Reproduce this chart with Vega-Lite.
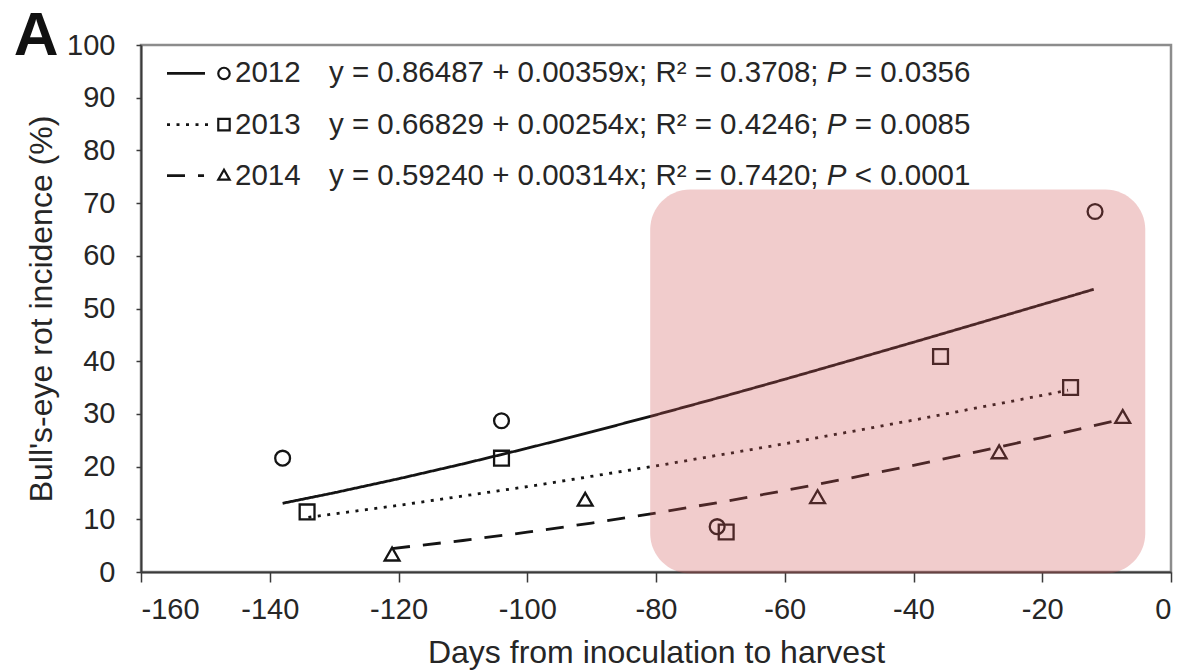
{
  "$schema": "https://vega.github.io/schema/vega-lite/v6.json",
  "width": 1030,
  "height": 527,
  "autosize": {"type": "none"},
  "padding": {"left": 141, "top": 45, "right": 15, "bottom": 100},
  "background": "white",
  "config": {
    "view": {"stroke": "#8c8c8c", "strokeWidth": 2.5},
    "font": "Liberation Sans",
    "axis": {
      "grid": false,
      "domainColor": "#3a3a3a",
      "domainWidth": 2,
      "tickColor": "#3a3a3a",
      "tickWidth": 1.5,
      "labelFont": "Liberation Sans",
      "labelFontSize": 29,
      "labelColor": "#262626",
      "titleFont": "Liberation Sans",
      "titleFontWeight": "normal",
      "titleColor": "#262626"
    }
  },
  "datasets": {
    "points": [
      {"year": "2012", "days": -138, "incidence": 21.6},
      {"year": "2012", "days": -104, "incidence": 28.7},
      {"year": "2012", "days": -70.5, "incidence": 8.6},
      {"year": "2012", "days": -11.8, "incidence": 68.4},
      {"year": "2013", "days": -134.2, "incidence": 11.4},
      {"year": "2013", "days": -104, "incidence": 21.6},
      {"year": "2013", "days": -69.1, "incidence": 7.6},
      {"year": "2013", "days": -35.8, "incidence": 40.9},
      {"year": "2013", "days": -15.6, "incidence": 35.0},
      {"year": "2014", "days": -121, "incidence": 3.4},
      {"year": "2014", "days": -91, "incidence": 13.8},
      {"year": "2014", "days": -54.9, "incidence": 14.3},
      {"year": "2014", "days": -26.7, "incidence": 22.8},
      {"year": "2014", "days": -7.5, "incidence": 29.5}
    ],
    "fits": [
      {"year": "2012", "days": -138, "fit": 13.04},
      {"year": "2012", "days": -130, "fit": 15.03},
      {"year": "2012", "days": -120, "fit": 17.69},
      {"year": "2012", "days": -110, "fit": 20.51},
      {"year": "2012", "days": -100, "fit": 23.48},
      {"year": "2012", "days": -90, "fit": 26.59},
      {"year": "2012", "days": -80, "fit": 29.82},
      {"year": "2012", "days": -70, "fit": 33.15},
      {"year": "2012", "days": -60, "fit": 36.57},
      {"year": "2012", "days": -50, "fit": 40.07},
      {"year": "2012", "days": -40, "fit": 43.6},
      {"year": "2012", "days": -30, "fit": 47.18},
      {"year": "2012", "days": -20, "fit": 50.77},
      {"year": "2012", "days": -12, "fit": 53.64},
      {"year": "2013", "days": -134, "fit": 10.37},
      {"year": "2013", "days": -120, "fit": 12.64},
      {"year": "2013", "days": -100, "fit": 16.2},
      {"year": "2013", "days": -80, "fit": 20.12},
      {"year": "2013", "days": -60, "fit": 24.34},
      {"year": "2013", "days": -40, "fit": 28.82},
      {"year": "2013", "days": -20, "fit": 33.52},
      {"year": "2013", "days": -16, "fit": 34.49},
      {"year": "2014", "days": -121, "fit": 4.45},
      {"year": "2014", "days": -110, "fit": 5.98},
      {"year": "2014", "days": -100, "fit": 7.55},
      {"year": "2014", "days": -90, "fit": 9.29},
      {"year": "2014", "days": -80, "fit": 11.2},
      {"year": "2014", "days": -70, "fit": 13.25},
      {"year": "2014", "days": -60, "fit": 15.45},
      {"year": "2014", "days": -50, "fit": 17.79},
      {"year": "2014", "days": -40, "fit": 20.25},
      {"year": "2014", "days": -30, "fit": 22.83},
      {"year": "2014", "days": -20, "fit": 25.52},
      {"year": "2014", "days": -8, "fit": 28.87}
    ],
    "legendLines": [
      {"year": "2012", "x1": -155.96, "x2": -150.06, "y": 94.6},
      {"year": "2013", "x1": -155.96, "x2": -149.28, "y": 84.9},
      {"year": "2014", "x1": -155.96, "x2": -150.21, "y": 75.2}
    ],
    "legendMarks": [
      {"year": "2012", "x": -147.11, "y": 94.6},
      {"year": "2013", "x": -147.11, "y": 84.9},
      {"year": "2014", "x": -147.11, "y": 75.4}
    ],
    "legendText": [
      {"x": -145.4, "y": 94.6, "label": "2012"},
      {"x": -145.4, "y": 84.9, "label": "2013"},
      {"x": -145.4, "y": 75.2, "label": "2014"},
      {"x": -130.8, "y": 94.6, "label": "y = 0.86487 + 0.00359x; R² = 0.3708;"},
      {"x": -130.8, "y": 84.9, "label": "y = 0.66829 + 0.00254x; R² = 0.4246;"},
      {"x": -130.8, "y": 75.2, "label": "y = 0.59240 + 0.00314x; R² = 0.7420;"},
      {"x": -49.13, "y": 94.6, "label": "= 0.0356"},
      {"x": -49.13, "y": 84.9, "label": "= 0.0085"},
      {"x": -49.13, "y": 75.2, "label": "< 0.0001"}
    ],
    "legendItalic": [
      {"x": -53.47, "y": 94.6, "label": "P"},
      {"x": -53.47, "y": 84.9, "label": "P"},
      {"x": -53.47, "y": 75.2, "label": "P"}
    ],
    "panel": [{"x": -176.3, "y": 98.1, "label": "A"}],
    "highlight": [{"x1": -80.9, "x2": -4.0, "y1": -0.3, "y2": 72.6}]
  },
  "layer": [
    {
      "data": {"name": "fits"},
      "mark": {"type": "line", "color": "#141414"},
      "encoding": {
        "x": {
          "field": "days", "type": "quantitative",
          "scale": {"domain": [-160, 0], "nice": false, "zero": false},
          "axis": {
            "values": [-160, -140, -120, -100, -80, -60, -40, -20, 0],
            "labelExpr": "'' + datum.value",
            "tickSize": 10,
            "labelPadding": 13,
            "title": "Days from inoculation to harvest",
            "titleFontSize": 32,
            "titlePadding": 13
          }
        },
        "y": {
          "field": "fit", "type": "quantitative",
          "scale": {"domain": [0, 100], "nice": false},
          "axis": {
            "values": [0, 10, 20, 30, 40, 50, 60, 70, 80, 90, 100],
            "tickSize": 5,
            "labelPadding": 21,
            "title": "Bull's-eye rot incidence (%)",
            "titleFontSize": 32,
            "titlePadding": 8
          }
        },
        "detail": {"field": "year", "type": "nominal"},
        "strokeDash": {
          "field": "year", "type": "nominal",
          "scale": {"domain": ["2012", "2013", "2014"], "range": [[1, 0], [3, 6.5], [18, 13]]},
          "legend": null
        },
        "strokeWidth": {
          "field": "year", "type": "nominal",
          "scale": {"domain": ["2012", "2013", "2014"], "range": [2.8, 2.8, 4.6]},
          "legend": null
        }
      }
    },
    {
      "data": {"name": "points"},
      "mark": {"type": "point", "filled": false, "stroke": "#141414", "strokeWidth": 2.3, "size": 220, "opacity": 1},
      "encoding": {
        "x": {"field": "days", "type": "quantitative"},
        "y": {"field": "incidence", "type": "quantitative"},
        "shape": {
          "field": "year", "type": "nominal",
          "scale": {"domain": ["2012", "2013", "2014"], "range": ["circle", "square", "triangle-up"]},
          "legend": null
        }
      }
    },
    {
      "data": {"name": "legendLines"},
      "mark": {"type": "rule", "color": "#141414"},
      "encoding": {
        "x": {"field": "x1", "type": "quantitative"},
        "x2": {"field": "x2"},
        "y": {"field": "y", "type": "quantitative"},
        "strokeDash": {"field": "year", "type": "nominal", "legend": null},
        "strokeWidth": {"field": "year", "type": "nominal", "legend": null}
      }
    },
    {
      "data": {"name": "legendMarks"},
      "mark": {"type": "point", "filled": false, "stroke": "#141414", "strokeWidth": 2.2, "size": 130, "opacity": 1},
      "encoding": {
        "x": {"field": "x", "type": "quantitative"},
        "y": {"field": "y", "type": "quantitative"},
        "shape": {"field": "year", "type": "nominal", "legend": null}
      }
    },
    {
      "data": {"name": "legendText"},
      "mark": {"type": "text", "align": "left", "baseline": "middle", "font": "Liberation Sans", "fontSize": 29.5, "color": "#262626"},
      "encoding": {
        "x": {"field": "x", "type": "quantitative"},
        "y": {"field": "y", "type": "quantitative"},
        "text": {"field": "label"}
      }
    },
    {
      "data": {"name": "legendItalic"},
      "mark": {"type": "text", "align": "left", "baseline": "middle", "font": "Liberation Sans", "fontStyle": "italic", "fontSize": 29.5, "color": "#262626"},
      "encoding": {
        "x": {"field": "x", "type": "quantitative"},
        "y": {"field": "y", "type": "quantitative"},
        "text": {"field": "label"}
      }
    },
    {
      "data": {"name": "panel"},
      "mark": {"type": "text", "align": "center", "baseline": "alphabetic", "font": "Liberation Sans", "fontWeight": "bold", "fontSize": 62, "color": "#111111", "clip": false},
      "encoding": {
        "x": {"field": "x", "type": "quantitative"},
        "y": {"field": "y", "type": "quantitative"},
        "text": {"field": "label"}
      }
    },
    {
      "data": {"name": "highlight"},
      "mark": {"type": "rect", "fill": "#d05555", "opacity": 0.3, "cornerRadius": 40},
      "encoding": {
        "x": {"field": "x1", "type": "quantitative"},
        "x2": {"field": "x2"},
        "y": {"field": "y1", "type": "quantitative"},
        "y2": {"field": "y2"}
      }
    }
  ]
}
